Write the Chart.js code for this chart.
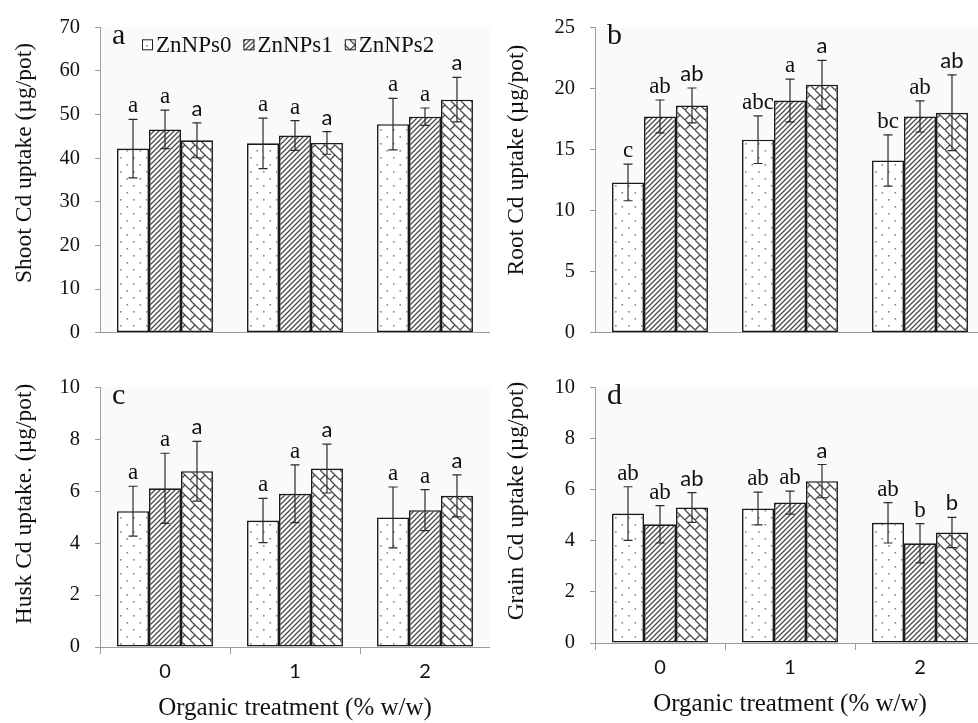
<!DOCTYPE html>
<html>
<head>
<meta charset="utf-8">
<script src="https://cdn.jsdelivr.net/npm/chart.js@4.4.1/dist/chart.umd.min.js"></script>
<style>
	html, body { margin: 0; padding: 0; background: #fff; }
	body { width: 978px; height: 723px; overflow: hidden; position: relative; }
	canvas { position: absolute; }
</style>
</head>
<body>
<canvas id="js_shoot" width="490" height="360" style="left:0;top:0"></canvas>
<canvas id="js_root" width="490" height="360" style="left:495px;top:0"></canvas>
<canvas id="js_husk" width="490" height="363" style="left:0;top:360px"></canvas>
<canvas id="js_grain" width="490" height="363" style="left:495px;top:360px"></canvas>
<script>

	/*
	 |
	 | Data
	 |
	 */
	const categories = [ "0", "1", "2" ]
	const seriesNames = [ "ZnNPs0", "ZnNPs1", "ZnNPs2" ]

	// a: Shoot Cd uptake
	const shootMeans = [ [ 42.2, 43.4, 47.8 ], [ 46.6, 45.2, 49.5 ], [ 44.1, 43.5, 53.4 ] ]
	const shootErrors = [ [ 6.7, 5.8, 5.9 ], [ 4.4, 3.4, 2.0 ], [ 4.0, 2.6, 5.1 ] ]
	const shootLetters = [ [ "a", "a", "a" ], [ "a", "a", "a" ], [ "a", "a", "a" ] ]

	// b: Root Cd uptake
	const rootMeans = [ [ 12.3, 15.8, 14.1 ], [ 17.7, 19.0, 17.7 ], [ 18.6, 20.3, 18.0 ] ]
	const rootErrors = [ [ 1.5, 1.95, 2.1 ], [ 1.35, 1.75, 1.27 ], [ 1.43, 2.0, 3.1 ] ]
	const rootLetters = [ [ "c", "abc", "bc" ], [ "ab", "a", "ab" ], [ "ab", "a", "ab" ] ]

	// c: Husk Cd uptake
	const huskMeans = [ [ 5.23, 4.87, 4.99 ], [ 6.11, 5.9, 5.27 ], [ 6.77, 6.87, 5.82 ] ]
	const huskErrors = [ [ 0.96, 0.85, 1.17 ], [ 1.35, 1.11, 0.79 ], [ 1.15, 0.94, 0.81 ] ]
	const huskLetters = [ [ "a", "a", "a" ], [ "a", "a", "a" ], [ "a", "a", "a" ] ]

	// d: Grain Cd uptake
	const grainMeans = [ [ 5.06, 5.26, 4.70 ], [ 4.64, 5.49, 3.90 ], [ 5.30, 6.33, 4.32 ] ]
	const grainErrors = [ [ 1.05, 0.64, 0.79 ], [ 0.73, 0.45, 0.77 ], [ 0.58, 0.65, 0.59 ] ]
	const grainLetters = [ [ "ab", "ab", "ab" ], [ "ab", "ab", "b" ], [ "ab", "a", "b" ] ]

	const SERIF = "'Liberation Serif', 'Times New Roman', serif"
	const SANS = "Lato, 'Liberation Sans', sans-serif"
	const AXIS_GREY = "#9c9c9c"

	/*
	 |
	 | Fill patterns (dots, stripes, diagonal brick)
	 |
	 */
	function makeTile ( w, h, draw ) {
		let c = document.createElement( "canvas" )
		c.width = w
		c.height = h
		let g = c.getContext( "2d" )
		g.fillStyle = "#fff"
		g.fillRect( 0, 0, w, h )
		draw( g )
		return g.createPattern( c, "repeat" )
	}

	const dotPattern = makeTile( 13, 14, function ( g ) {
		g.fillStyle = "#858585"
		g.fillRect( 3, 3, 1.6, 1.6 )
		g.fillRect( 9.5, 10, 1.6, 1.6 )
	} )

	const stripePattern = makeTile( 5, 5, function ( g ) {
		g.strokeStyle = "#4a4a4a"
		g.lineWidth = 1.3
		g.beginPath()
		for ( let k of [ -5, 0, 5 ] ) {
			g.moveTo( k - 1, 6 )
			g.lineTo( k + 6, -1 )
		}
		g.stroke()
	} )

	// one "\" rule per tile, half a "/" rule per tile -> offset diagonal bricks
	const brickPattern = makeTile( 10, 10, function ( g ) {
		let t = 10
		g.strokeStyle = "#4a4a4a"
		g.lineWidth = 1.3
		g.beginPath()
		g.moveTo( -1, -1 ); g.lineTo( t + 1, t + 1 )
		g.moveTo( -1, t + 1 ); g.lineTo( t / 2, t / 2 )
		g.stroke()
	} )

	const fills = [ dotPattern, stripePattern, brickPattern ]

	/*
	 |
	 | Plugins: plot background, error bars + letters, panel tag, legend, y title
	 |
	 */
	const plotBackground = {
		id: "plotBackground",
		beforeDraw ( chart ) {
			let a = chart.chartArea
			chart.ctx.save()
			chart.ctx.fillStyle = "#fafafa"
			chart.ctx.fillRect( a.left, a.top, a.right - a.left, a.bottom - a.top )
			chart.ctx.restore()
		}
	}

	const errorBars = {
		id: "errorBars",
		afterDatasetsDraw ( chart ) {
			let ctx = chart.ctx
			let y = chart.scales.y
			ctx.save()
			chart.data.datasets.forEach( function ( ds, i ) {
				chart.getDatasetMeta( i ).data.forEach( function ( bar, j ) {
					let v = ds.data[ j ]
					let e = ds.errors[ j ]
					let top = y.getPixelForValue( v + e )
					let bot = y.getPixelForValue( v - e )
					ctx.strokeStyle = "#2a2a2a"
					ctx.lineWidth = 1.2
					ctx.beginPath()
					ctx.moveTo( bar.x, top ); ctx.lineTo( bar.x, bot )
					ctx.moveTo( bar.x - 4.5, top ); ctx.lineTo( bar.x + 4.5, top )
					ctx.moveTo( bar.x - 4.5, bot ); ctx.lineTo( bar.x + 4.5, bot )
					ctx.stroke()

					ctx.fillStyle = "#111"
					ctx.font = ( i === 2 ? "22px " + SANS : "23px " + SERIF )
					ctx.textAlign = "center"
					ctx.textBaseline = "alphabetic"
					ctx.fillText( ds.letters[ j ], bar.x, top - 7 )
				} )
			} )
			ctx.restore()
		}
	}

	const panelTag = {
		id: "panelTag",
		afterDraw ( chart, args, opts ) {
			let ctx = chart.ctx
			ctx.save()
			ctx.fillStyle = "#111"
			ctx.font = "30px " + SERIF
			ctx.textAlign = "left"
			ctx.textBaseline = "alphabetic"
			ctx.fillText( opts.text, chart.chartArea.left + 12, chart.chartArea.top + 17 )

			// y axis title, placed where the figure has it
			ctx.save()
			ctx.translate( opts.yTitleX, opts.yTitleY )
			ctx.rotate( -Math.PI / 2 )
			ctx.font = "23.5px " + SERIF
			ctx.textAlign = "center"
			ctx.textBaseline = "middle"
			ctx.fillText( opts.yTitle, 0, 0 )
			ctx.restore()

			if ( opts.legend ) {
				let x = chart.chartArea.left + 42
				let yMid = chart.chartArea.top + 18
				ctx.font = "23px " + SERIF
				ctx.textBaseline = "middle"
				chart.data.datasets.forEach( function ( ds ) {
					ctx.fillStyle = ds.backgroundColor
					ctx.fillRect( x, yMid - 6, 11, 11 )
					ctx.strokeStyle = "#222"
					ctx.lineWidth = 1
					ctx.strokeRect( x + 0.5, yMid - 5.5, 10, 10 )
					ctx.fillStyle = "#111"
					ctx.fillText( ds.label, x + 14, yMid + 1 )
					x += 14 + ctx.measureText( ds.label ).width + 12
				} )
			}
			ctx.restore()
		}
	}

	/*
	 |
	 | Build one panel
	 |
	 */
	function buildPanel ( id, setup ) {
		let datasets = seriesNames.map( function ( name, i ) {
			return {
				label: name,
				data: setup.means[ i ],
				errors: setup.errors[ i ],
				letters: setup.letters[ i ],
				backgroundColor: fills[ i ],
				borderColor: "#1a1a1a",
				borderWidth: 1.6,
				borderSkipped: false,
				categoryPercentage: 0.738,
				barPercentage: 1
			}
		} )

		let xScale = {
			ticks: {
				display: setup.showX,
				color: "#111",
				font: { family: SANS, size: 20 },
				padding: 6
			},
			grid: {
				drawOnChartArea: false,
				drawTicks: setup.showX,
				tickLength: 7,
				offset: true,
				color: AXIS_GREY
			},
			border: { color: AXIS_GREY, width: 1 },
			title: {
				display: setup.showX,
				text: "Organic treatment (% w/w)",
				color: "#111",
				font: { family: SERIF, size: 25 },
				padding: { top: 0, bottom: 0 }
			},
			afterFit ( s ) { s.height = setup.xHeight }
		}

		let yScale = {
			min: 0,
			max: setup.max,
			ticks: {
				stepSize: setup.step,
				color: "#111",
				font: { family: SERIF, size: 20.5 },
				padding: 15
			},
			grid: {
				drawOnChartArea: false,
				drawTicks: true,
				tickLength: 5,
				color: AXIS_GREY
			},
			border: { color: AXIS_GREY, width: 1 },
			afterFit ( s ) { s.width = 100 }
		}

		return new Chart( document.getElementById( id ), {
			type: "bar",
			data: { labels: categories, datasets: datasets },
			options: {
				responsive: false,
				animation: false,
				layout: { padding: setup.padding },
				scales: { x: xScale, y: yScale },
				plugins: {
					legend: { display: false },
					tooltip: { enabled: false },
					panelTag: {
						text: setup.tag,
						legend: setup.legend,
						yTitle: setup.yTitle,
						yTitleX: setup.yTitleX,
						yTitleY: setup.yTitleY
					}
				}
			},
			plugins: [ plotBackground, errorBars, panelTag ]
		} )
	}

	buildPanel( "js_shoot", {
		means: shootMeans, errors: shootErrors, letters: shootLetters,
		max: 70, step: 10, yTitle: "Shoot Cd uptake (\u00b5g/pot)", tag: "a", legend: true,
		showX: false, xHeight: 0, yTitleX: 25, yTitleY: 163,
		padding: { top: 21, bottom: 10, left: 0, right: 0 }
	} )

	buildPanel( "js_root", {
		means: rootMeans, errors: rootErrors, letters: rootLetters,
		max: 25, step: 5, yTitle: "Root Cd uptake (\u00b5g/pot)", tag: "b", legend: false,
		showX: false, xHeight: 0, yTitleX: 22, yTitleY: 160,
		padding: { top: 21, bottom: 10, left: 0, right: 0 }
	} )

	buildPanel( "js_husk", {
		means: huskMeans, errors: huskErrors, letters: huskLetters,
		max: 10, step: 2, yTitle: "Husk Cd uptake. (\u00b5g/pot)", tag: "c", legend: false,
		showX: true, xHeight: 76, yTitleX: 25, yTitleY: 144,
		padding: { top: 17, bottom: 0, left: 0, right: 0 }
	} )

	buildPanel( "js_grain", {
		means: grainMeans, errors: grainErrors, letters: grainLetters,
		max: 10, step: 2, yTitle: "Grain Cd uptake (\u00b5g/pot)", tag: "d", legend: false,
		showX: true, xHeight: 76, yTitleX: 22, yTitleY: 141,
		padding: { top: 17, bottom: 4, left: 0, right: 0 }
	} )

</script>
</body>
</html>
